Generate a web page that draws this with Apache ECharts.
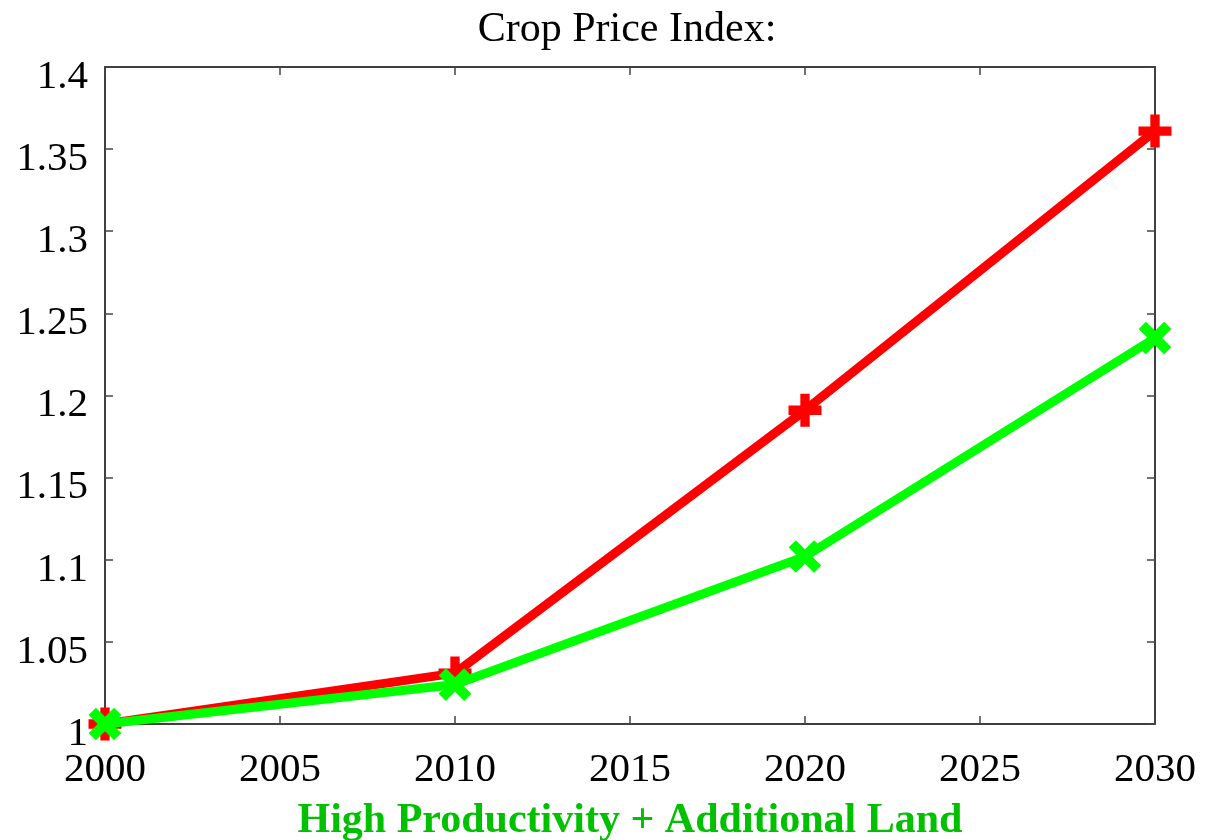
<!DOCTYPE html>
<html>
<head>
<meta charset="utf-8">
<script src="https://cdn.jsdelivr.net/npm/echarts@6/dist/echarts.min.js"></script>
<style>
  html, body { margin: 0; padding: 0; background: #fff; }
  #chart { width: 1207px; height: 840px; }
</style>
</head>
<body>
<div id="chart"></div>
<script>
// data
const years = [2000, 2010, 2020, 2030]
const baseline = [1.0, 1.031, 1.191, 1.361]
const highProdLand = [1.0, 1.024, 1.102, 1.235]

const serif = '"Liberation Serif", "DejaVu Serif", serif'

// plus sign, rotated 45deg gives the cross
const plusPath = 'path://M-1.7,-6 L1.7,-6 L1.7,-1.7 L6,-1.7 L6,1.7 L1.7,1.7 L1.7,6 L-1.7,6 L-1.7,1.7 L-6,1.7 L-6,-1.7 L-1.7,-1.7 Z'

const fmtY = (v) => String(+v.toFixed(2))
const fmtX = (v) => String(v)

const chart = echarts.init(document.getElementById('chart'))

const option = {
  animation: false,
  title: {
    text: 'Crop Price Index:',
    left: 622,
    textAlign: 'center',
    top: 4,
    textStyle: { fontFamily: serif, fontSize: 42, fontWeight: 'normal', color: '#000' }
  },
  grid: { left: 105, right: 52, top: 67, bottom: 116, containLabel: false, outerBoundsMode: 'none' },
  xAxis: [
    {
      type: 'value',
      min: 2000,
      max: 2030,
      interval: 5,
      name: 'High Productivity + Additional Land',
      nameLocation: 'middle',
      nameGap: 76,
      nameTextStyle: { fontFamily: serif, fontSize: 42, fontWeight: 'bold', color: '#00c000' },
      axisLine: { onZero: false, lineStyle: { color: '#000', width: 1.5 } },
      axisTick: { inside: true, length: 8, lineStyle: { color: '#444', width: 1.5 } },
      axisLabel: { fontFamily: serif, fontSize: 41, color: '#000', margin: 26, formatter: fmtX },
      splitLine: { show: false }
    },
    {
      type: 'value',
      position: 'top',
      min: 2000,
      max: 2030,
      interval: 5,
      axisLine: { onZero: false, lineStyle: { color: '#000', width: 1.5 } },
      axisTick: { inside: true, length: 8, lineStyle: { color: '#444', width: 1.5 } },
      axisLabel: { show: false },
      splitLine: { show: false }
    }
  ],
  yAxis: [
    {
      type: 'value',
      min: 1,
      max: 1.4,
      interval: 0.05,
      axisLine: { show: true, onZero: false, lineStyle: { color: '#000', width: 1.5 } },
      axisTick: { show: true, inside: true, length: 8, lineStyle: { color: '#444', width: 1.5 } },
      axisLabel: {
        fontFamily: serif, fontSize: 41, color: '#000', margin: 17, formatter: fmtY,
        verticalAlign: 'top', lineHeight: 20
      },
      splitLine: { show: false }
    },
    {
      type: 'value',
      position: 'right',
      min: 1,
      max: 1.4,
      interval: 0.05,
      axisLine: { show: true, onZero: false, lineStyle: { color: '#000', width: 1.5 } },
      axisTick: { show: true, inside: true, length: 8, lineStyle: { color: '#444', width: 1.5 } },
      axisLabel: { show: false },
      splitLine: { show: false }
    }
  ],
  series: [
    {
      name: 'Baseline',
      type: 'line',
      data: years.map((y, i) => [y, baseline[i]]),
      lineStyle: { color: '#ff0000', width: 9 },
      itemStyle: { color: '#ff0000' },
      symbol: plusPath,
      symbolSize: 33,
      showAllSymbol: true,
      clip: false,
      z: 3
    },
    {
      name: 'High Productivity + Additional Land',
      type: 'line',
      data: years.map((y, i) => [y, highProdLand[i]]),
      lineStyle: { color: '#00ff00', width: 9 },
      itemStyle: { color: '#00ff00' },
      symbol: plusPath,
      symbolRotate: 45,
      symbolSize: 36,
      showAllSymbol: true,
      clip: false,
      z: 4
    }
  ]
}

chart.setOption(option)
</script>
</body>
</html>
